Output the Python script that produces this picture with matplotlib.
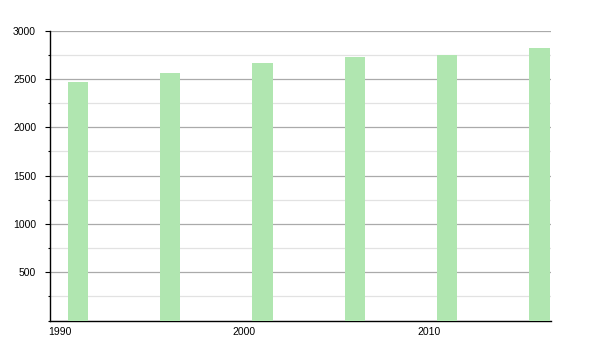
import matplotlib
matplotlib.use("Agg")
import matplotlib.pyplot as plt
from matplotlib.ticker import MultipleLocator, FixedLocator

years = [1991, 1996, 2001, 2006, 2011, 2016]
population = [2470, 2566, 2670, 2729, 2750, 2825]
xticks = [1990, 2000, 2010]
yticks = [500, 1000, 1500, 2000, 2500, 3000]

plt.rcParams['font.family'] = ['Liberation Sans', 'DejaVu Sans']
fig = plt.figure(figsize=(6, 3.5), dpi=100)
ax = fig.add_axes([50/600, 1-320.5/350, 501/600, 289.8/350])

ax.bar(years, population, width=1.11, color='#b0e6b0', zorder=3)

ax.set_xlim(1989.49, 2016.62)
ax.set_ylim(0, 3000)
ax.xaxis.set_major_locator(FixedLocator(xticks))
ax.yaxis.set_major_locator(FixedLocator(yticks))
ax.yaxis.set_minor_locator(MultipleLocator(250))
ax.grid(True, which='major', axis='y', color='#aaaaaa', linewidth=0.9, zorder=1)
ax.grid(True, which='minor', axis='y', color='#e2e2e2', linewidth=0.9, zorder=1)

for s in ['top', 'right']:
    ax.spines[s].set_visible(False)
for s in ['left', 'bottom']:
    ax.spines[s].set_color('black')
    ax.spines[s].set_linewidth(1.0)

ax.tick_params(axis='y', which='major', length=3.6, width=0.8, labelsize=7.5, pad=6.4)
ax.tick_params(axis='y', which='minor', length=1.5, width=0.8)
ax.tick_params(axis='x', which='major', length=0, labelsize=7.5, pad=5)

fig.savefig('out.png', dpi=100)
